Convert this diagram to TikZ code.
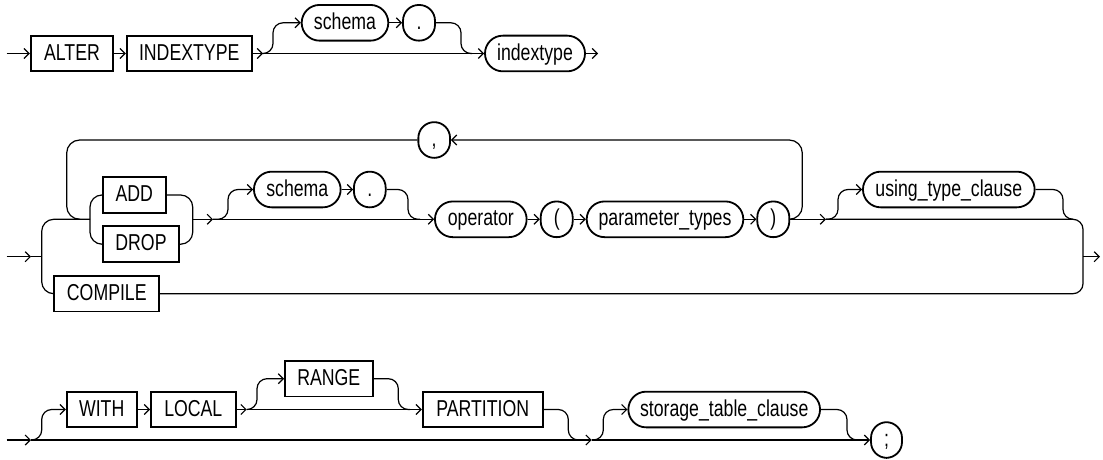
\documentclass[tikz,border=0pt]{standalone}
\usepackage{fontspec}
\setmainfont{Liberation Sans}[FakeStretch=0.77]
\usetikzlibrary{arrows.meta}
\begin{document}
\begin{tikzpicture}[x=1pt,y=-1pt,
  >={Straight Barb[length=5pt,width=10pt]},
  base/.style={draw, line width=1.8pt, minimum height=35.7pt, inner sep=0pt,
    text height=16.5pt, text depth=3.5pt, font=\fontsize{23}{27}\selectfont},
  kw/.style={base, rectangle},
  ov/.style={base, rectangle, rounded corners=17.8pt},
  ci/.style={base, rectangle, rounded corners=15.8pt},
  conn/.style={line width=1.2pt},
  rc/.style={rounded corners=10pt}]
\useasboundingbox (0,0) rectangle (1103,460);

% ---------- Row 1 ----------
\node[kw,minimum width=82.6pt] (alter) at (72,53.5) {ALTER};
\node[kw,minimum width=125pt] (indexkw) at (189.2,53.5) {INDEXTYPE};
\node[ov,minimum width=86.6pt] (schemaA) at (345,22.8) {schema};
\node[ci,minimum width=32pt] (dotA) at (419,22.8) {.};
\node[ov,minimum width=100pt] (indextype) at (535,53.5) {indextype};
\coordinate (s1) at (6.7,53.5);
\coordinate (f1) at (263,53.5);
\coordinate (m1) at (472,53.5);
\coordinate (e1) at (598,53.5);

\draw[conn,->] (s1) -- (alter.west);
\draw[conn,->] (alter) -- (indexkw);
\draw[conn,->] (indexkw.east) -- (f1);
\draw[conn,->] (f1) -- (indextype.west);
\draw[conn,->,rc] (f1) -- (273,53.5) -- (273,22.8) -- (schemaA.west);
\draw[conn,->] (schemaA) -- (dotA);
\draw[conn,rc] (dotA.east) -- (461,22.8) -- (461,53.5) -- (m1);
\draw[conn,->] (indextype.east) -- (e1);

% ---------- Row 2 ----------
\node[kw,minimum width=63pt] (add) at (134.2,195) {ADD};
\node[kw,minimum width=76.6pt] (drop) at (141,244.2) {DROP};
\node[kw,minimum width=105pt] (compile) at (106.8,293.7) {COMPILE};
\node[ov,minimum width=86.7pt] (schemaB) at (297.3,189.5) {schema};
\node[ci,minimum width=31.7pt] (dotB) at (369.8,189.5) {.};
\node[ov,minimum width=91.7pt] (operator) at (480.8,219.3) {operator};
\node[ci,minimum width=32pt] (lpar) at (556.7,219.3) {(};
\node[ov,minimum width=156.6pt] (ptypes) at (665,219.3) {parameter\_types};
\node[ci,minimum width=32pt] (rpar) at (773.3,219.3) {)};
\node[ci,minimum width=31.7pt] (comma) at (434.2,140) {,};
\node[ov,minimum width=171.7pt] (using) at (948.8,189.5) {using\_type\_clause};

\coordinate (s2) at (6.7,256.7);
\coordinate (a2) at (31,256.7);
\coordinate (j2) at (41.7,256.7);
\coordinate (bl) at (90,219.3);
\coordinate (br) at (192.7,219.3);
\coordinate (f2) at (213,219.3);
\coordinate (m2) at (420,219.3);
\coordinate (f3) at (826,219.3);
\coordinate (m3) at (1073,219.3);
\coordinate (x2) at (1083,256.7);
\coordinate (e2) at (1100,256.7);
\coordinate (lj) at (80,219.3);

\draw[conn,->] (s2) -- (a2);
\draw[conn] (a2) -- (j2);
\draw[conn,rounded corners=12pt] (bl) -- (41.7,219.3) -- (41.7,293.7) -- (compile.west);
\draw[conn,rounded corners=12pt] (add.west) -- (90,195) -- (90,244.2) -- (drop.west);
\draw[conn,rounded corners=12pt] (add.east) -- (192.7,195) -- (192.7,244.2) -- (drop.east);
\draw[conn,->] (br) -- (f2);
\draw[conn,->] (f2) -- (operator.west);
\draw[conn,->,rc] (f2) -- (228,219.3) -- (228,189.5) -- (schemaB.west);
\draw[conn,->] (schemaB) -- (dotB);
\draw[conn,rc] (dotB.east) -- (408,189.5) -- (408,219.3) -- (m2);
\draw[conn,->] (operator) -- (lpar);
\draw[conn,->] (lpar) -- (ptypes);
\draw[conn,->] (ptypes) -- (rpar);
\draw[conn,->,rounded corners=13pt] (rpar.east) -- (802.3,219.3) -- (802.3,140) -- (comma.east);
\draw[conn,rounded corners=13pt] (comma.west) -- (66.7,140) -- (66.7,219.3) -- (lj);
\draw[conn,->] (rpar.east) -- (f3);
\draw[conn,->,rc] (f3) -- (838,219.3) -- (838,189.5) -- (using.west);
\draw[conn,rc] (using.east) -- (1063,189.5) -- (1063,219.3) -- (m3);
\draw[conn,rc] (f3) -- (1083,219.3) -- (1083,293.7) -- (compile.east);
\draw[conn,->] (x2) -- (e2);

% ---------- Row 3 ----------
\node[kw,minimum width=70pt] (with) at (101.7,409.5) {WITH};
\node[kw,minimum width=84.7pt] (local) at (193.3,409.5) {LOCAL};
\node[kw,minimum width=87.7pt] (range) at (328.8,378.7) {RANGE};
\node[kw,minimum width=120pt] (partition) at (482.7,409.5) {PARTITION};
\node[ov,minimum width=191.7pt] (storage) at (724.2,409.5) {storage\_table\_clause};
\node[ci,minimum width=31pt] (semi) at (886.5,440) {;};

\coordinate (s3) at (6.7,440);
\coordinate (a3) at (31,440);
\coordinate (f4) at (246.7,409.5);
\coordinate (m4) at (410,409.5);
\coordinate (m5) at (580,440);
\coordinate (f5) at (591.7,440);
\coordinate (m6) at (860,440);

\draw[conn,->] (s3) -- (a3);
\draw[conn,->,rc] (a3) -- (41.7,440) -- (41.7,409.5) -- (with.west);
\draw[conn,->] (a3) -- (f5);
\draw[conn,->] (with) -- (local);
\draw[conn,->] (local.east) -- (f4);
\draw[conn,->] (f4) -- (partition.west);
\draw[conn,->,rc] (f4) -- (257,409.5) -- (257,378.7) -- (range.west);
\draw[conn,rc] (range.east) -- (398.3,378.7) -- (398.3,409.5) -- (m4);
\draw[conn,rc] (partition.east) -- (568.3,409.5) -- (568.3,440) -- (m5);
\draw[conn,->] (f5) -- (semi.west);
\draw[conn,->,rc] (f5) -- (603.3,440) -- (603.3,409.5) -- (storage.west);
\draw[conn,rc] (storage.east) -- (847,409.5) -- (847,440) -- (m6);
\end{tikzpicture}
\end{document}
